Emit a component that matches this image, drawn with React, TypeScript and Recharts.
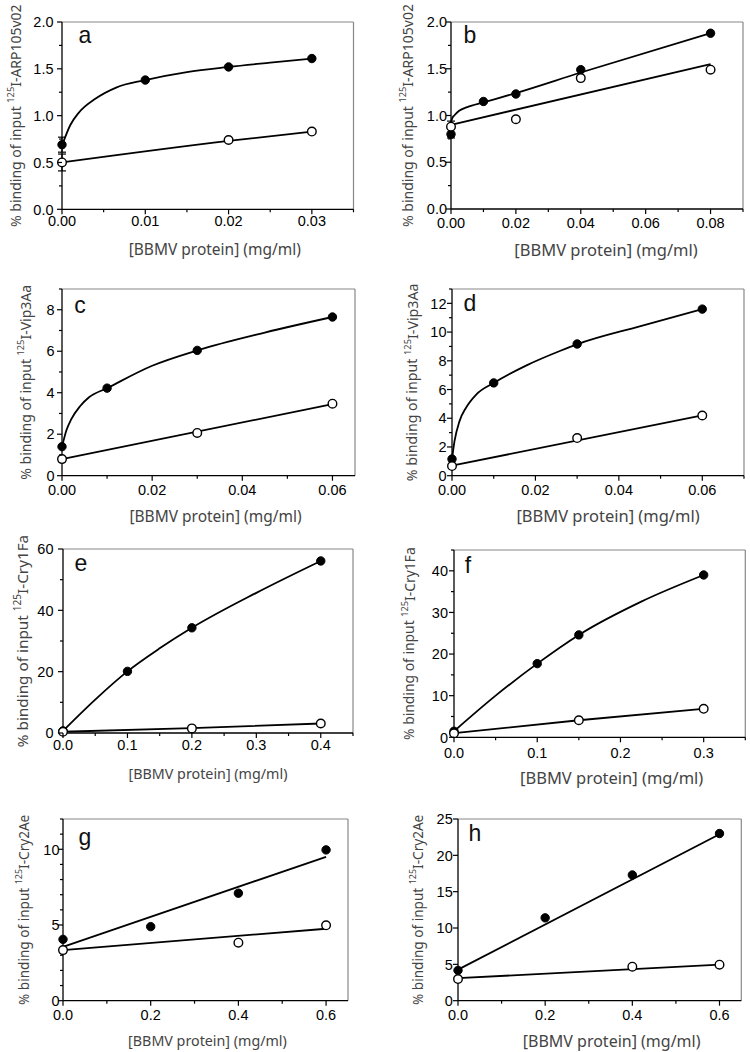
import React from 'react';
import { ComposedChart, Line, XAxis, YAxis, ReferenceLine, ErrorBar } from 'recharts';

// ---------- Panel a : 125I-ARP105v02 ----------
const aFilledX = [0, 0.01, 0.02, 0.03];
const aFilledY = [0.69, 1.38, 1.52, 1.61];
const aOpenX = [0, 0.02, 0.03];
const aOpenY = [0.5, 0.74, 0.83];
const aFilledCurveX = [0, 0.001, 0.002, 0.004, 0.0065, 0.01, 0.015, 0.02, 0.025, 0.03];
const aFilledCurveY = [0.68, 0.9, 1.03, 1.18, 1.3, 1.38, 1.465, 1.52, 1.566, 1.61];
const aOpenCurveX = [0, 0.02, 0.03];
const aOpenCurveY = [0.5, 0.73, 0.83];
const aErrFilled = [{ x: 0, y: 0.69, err: 0.08 }];
const aErrOpen = [{ x: 0, y: 0.5, err: 0.09 }];

// ---------- Panel b : 125I-ARP105v02 ----------
const bFilledX = [0, 0.01, 0.02, 0.04, 0.08];
const bFilledY = [0.8, 1.15, 1.23, 1.49, 1.88];
const bOpenX = [0, 0.02, 0.04, 0.08];
const bOpenY = [0.88, 0.96, 1.4, 1.49];
const bFilledCurveX = [0, 0.0005, 0.001, 0.0025, 0.005, 0.01, 0.02, 0.04, 0.08];
const bFilledCurveY = [0.93, 0.98, 1.0, 1.05, 1.09, 1.14, 1.24, 1.46, 1.88];
const bOpenCurveX = [0, 0.08];
const bOpenCurveY = [0.9, 1.55];
const bErrFilled = [{ x: 0, y: 0.8, err: [0.04, 0.14] }];

// ---------- Panel c : 125I-Vip3Aa ----------
const cFilledX = [0, 0.01, 0.03, 0.06];
const cFilledY = [1.4, 4.22, 6.04, 7.65];
const cOpenX = [0, 0.03, 0.06];
const cOpenY = [0.8, 2.06, 3.47];
const cFilledCurveX = [0, 0.001, 0.002, 0.004, 0.006, 0.01, 0.02, 0.03, 0.045, 0.06];
const cFilledCurveY = [1.4, 2.2, 2.7, 3.35, 3.78, 4.22, 5.3, 6.04, 6.9, 7.65];
const cOpenCurveX = [0, 0.06];
const cOpenCurveY = [0.8, 3.45];

// ---------- Panel d : 125I-Vip3Aa ----------
const dFilledX = [0, 0.01, 0.03, 0.06];
const dFilledY = [1.16, 6.46, 9.17, 11.6];
const dOpenX = [0, 0.03, 0.06];
const dOpenY = [0.67, 2.62, 4.19];
const dFilledCurveX = [0, 0.0006, 0.0018, 0.0034, 0.0058, 0.01, 0.018, 0.026, 0.03, 0.045, 0.06];
const dFilledCurveY = [1.16, 2.4, 3.8, 4.75, 5.65, 6.46, 7.7, 8.7, 9.15, 10.4, 11.6];
const dOpenCurveX = [0, 0.06];
const dOpenCurveY = [0.7, 4.2];

// ---------- Panel e : 125I-Cry1Fa ----------
const eFilledX = [0, 0.1, 0.2, 0.4];
const eFilledY = [0.7, 20.1, 34.3, 56.1];
const eOpenX = [0, 0.2, 0.4];
const eOpenY = [0.4, 1.5, 3.1];
const eFilledCurveX = [0, 0.05, 0.1, 0.15, 0.2, 0.3, 0.4];
const eFilledCurveY = [0.7, 10.9, 20.1, 27.6, 34.3, 45.7, 56.1];
const eOpenCurveX = [0, 0.2, 0.4];
const eOpenCurveY = [0.4, 1.6, 3.1];

// ---------- Panel f : 125I-Cry1Fa ----------
const fFilledX = [0, 0.1, 0.15, 0.3];
const fFilledY = [1.45, 17.7, 24.6, 39.0];
const fOpenX = [0, 0.15, 0.3];
const fOpenY = [0.97, 4.1, 6.84];
const fFilledCurveX = [0, 0.05, 0.1, 0.15, 0.225, 0.3];
const fFilledCurveY = [1.45, 10.0, 17.7, 24.6, 32.6, 39.0];
const fOpenCurveX = [0, 0.15, 0.3];
const fOpenCurveY = [0.97, 4.1, 6.84];

// ---------- Panel g : 125I-Cry2Ae ----------
const gFilledX = [0, 0.2, 0.4, 0.6];
const gFilledY = [4.05, 4.89, 7.1, 9.96];
const gOpenX = [0, 0.4, 0.6];
const gOpenY = [3.34, 3.83, 4.98];
const gFilledFitX = [0, 0.6];
const gFilledFitY = [3.56, 9.5];
const gOpenFitX = [0, 0.6];
const gOpenFitY = [3.34, 4.75];

// ---------- Panel h : 125I-Cry2Ae ----------
const hFilledX = [0, 0.2, 0.4, 0.6];
const hFilledY = [4.17, 11.4, 17.3, 23.0];
const hOpenX = [0, 0.4, 0.6];
const hOpenY = [2.98, 4.68, 4.95];
const hFilledFitX = [0, 0.6];
const hFilledFitY = [4.27, 22.9];
const hOpenFitX = [0, 0.6];
const hOpenFitY = [3.1, 4.95];

// ---------- Axis ticks ----------
const ticksX_a = [0, 0.01, 0.02, 0.03];
const minorX_a = [0.005, 0.015, 0.025, 0.035];
const ticksX_b = [0, 0.02, 0.04, 0.06, 0.08];
const minorX_b = [0.01, 0.03, 0.05, 0.07, 0.09];
const ticksX_cd = [0, 0.02, 0.04, 0.06];
const minorX_c = [0.01, 0.03, 0.05];
const minorX_d = [0.01, 0.03, 0.05, 0.07];
const ticksX_e = [0, 0.1, 0.2, 0.3, 0.4];
const minorX_e = [0.05, 0.15, 0.25, 0.35, 0.45];
const ticksX_f = [0, 0.1, 0.2, 0.3];
const minorX_f = [0.05, 0.15, 0.25, 0.35];
const ticksX_gh = [0, 0.2, 0.4, 0.6];
const minorX_gh = [0.1, 0.3, 0.5];

const ticksY_ab = [0, 0.5, 1.0, 1.5, 2.0];
const minorY_ab = [0.25, 0.75, 1.25, 1.75];
const ticksY_c = [0, 2, 4, 6, 8];
const minorY_c = [1, 3, 5, 7, 9];
const ticksY_d = [0, 2, 4, 6, 8, 10, 12];
const minorY_d = [1, 3, 5, 7, 9, 11, 13];
const ticksY_e = [0, 20, 40, 60];
const minorY_e = [10, 30, 50];
const ticksY_f = [0, 10, 20, 30, 40];
const minorY_f = [5, 15, 25, 35, 45];
const ticksY_g = [0, 5, 10];
const minorY_g = [1, 2, 3, 4, 6, 7, 8, 9, 11, 12];
const ticksY_h = [0, 5, 10, 15, 20, 25];
const minorY_h: number[] = [];

const proteins = ['ARP105v02', 'ARP105v02', 'Vip3Aa', 'Vip3Aa', 'Cry1Fa', 'Cry1Fa', 'Cry2Ae', 'Cry2Ae'];
const panelLetters = ['a', 'b', 'c', 'd', 'e', 'f', 'g', 'h'];
const xTitle = '[BBMV protein] (mg/ml)';

const toPts = (xs: number[], ys: number[]) => xs.map((x, i) => ({ x, y: ys[i] }));

const TICK_FONT = 'Arial, "Liberation Sans", sans-serif';
const TITLE_FONT = '"Noto Sans", "Open Sans", sans-serif';

const ML = 70, MT = 25, MR = 12, XH = 55;

type Panel = {
  box: [number, number, number, number];
  xDomain: [number, number];
  xMajor: number[];
  xMinor: number[];
  xDec: number;
  yDomain: [number, number];
  yMajor: number[];
  yMinor: number[];
  yDec: number;
  filled: { x: number; y: number }[];
  open: { x: number; y: number }[];
  filledCurve: { x: number; y: number }[];
  openCurve: { x: number; y: number }[];
  curveType: 'monotone' | 'linear';
  errFilled?: any[];
  errOpen?: any[];
  letter: [number, number];
  yTitleOffset: number;
  yTitleShift: number;
  xTitleShift: number;
  xTitleSize: number;
  yTitleSize: number;
  xTickOff: number;
  yTickGap: number;
};

const panels: Panel[] = [
  {
    box: [62, 21.7, 353.5, 209], xDomain: [0, 0.035], xMajor: ticksX_a, xMinor: minorX_a, xDec: 2,
    yDomain: [0, 2], yMajor: ticksY_ab, yMinor: minorY_ab, yDec: 1,
    filled: toPts(aFilledX, aFilledY), open: toPts(aOpenX, aOpenY),
    filledCurve: toPts(aFilledCurveX, aFilledCurveY), openCurve: toPts(aOpenCurveX, aOpenCurveY),
    curveType: 'monotone', errFilled: aErrFilled, errOpen: aErrOpen,
    letter: [23, 13], yTitleOffset: 47, yTitleShift: 0, xTitleShift: 7, xTitleSize: 15.5, yTitleSize: 14,
    xTickOff: 11, yTickGap: 8.5,
  },
  {
    box: [451, 22, 743, 209], xDomain: [0, 0.09], xMajor: ticksX_b, xMinor: minorX_b, xDec: 2,
    yDomain: [0, 2], yMajor: ticksY_ab, yMinor: minorY_ab, yDec: 1,
    filled: toPts(bFilledX, bFilledY), open: toPts(bOpenX, bOpenY),
    filledCurve: toPts(bFilledCurveX, bFilledCurveY), openCurve: toPts(bOpenCurveX, bOpenCurveY),
    curveType: 'monotone', errFilled: bErrFilled,
    letter: [19, 13], yTitleOffset: 44, yTitleShift: 0, xTitleShift: 9, xTitleSize: 16.5, yTitleSize: 14,
    xTickOff: 13.5, yTickGap: 4,
  },
  {
    box: [62, 289.3, 355, 476], xDomain: [0, 0.065], xMajor: ticksX_cd, xMinor: minorX_c, xDec: 2,
    yDomain: [0, 9], yMajor: ticksY_c, yMinor: minorY_c, yDec: 0,
    filled: toPts(cFilledX, cFilledY), open: toPts(cOpenX, cOpenY),
    filledCurve: toPts(cFilledCurveX, cFilledCurveY), openCurve: toPts(cOpenCurveX, cOpenCurveY),
    curveType: 'monotone',
    letter: [18, 16], yTitleOffset: 37, yTitleShift: 0, xTitleShift: 7, xTitleSize: 15.5, yTitleSize: 14,
    xTickOff: 14, yTickGap: 7.5,
  },
  {
    box: [452.3, 289.3, 744.3, 476], xDomain: [0, 0.07], xMajor: ticksX_cd, xMinor: minorX_d, xDec: 2,
    yDomain: [0, 13], yMajor: ticksY_d, yMinor: minorY_d, yDec: 0,
    filled: toPts(dFilledX, dFilledY), open: toPts(dOpenX, dOpenY),
    filledCurve: toPts(dFilledCurveX, dFilledCurveY), openCurve: toPts(dOpenCurveX, dOpenCurveY),
    curveType: 'monotone',
    letter: [18, 14], yTitleOffset: 40.5, yTitleShift: 0, xTitleShift: 10, xTitleSize: 16.5, yTitleSize: 14.2,
    xTickOff: 14, yTickGap: 5.5,
  },
  {
    box: [63.3, 549.3, 353.3, 733.3], xDomain: [0, 0.45], xMajor: ticksX_e, xMinor: minorX_e, xDec: 1,
    yDomain: [0, 60], yMajor: ticksY_e, yMinor: minorY_e, yDec: 0,
    filled: toPts(eFilledX, eFilledY), open: toPts(eOpenX, eOpenY),
    filledCurve: toPts(eFilledCurveX, eFilledCurveY), openCurve: toPts(eOpenCurveX, eOpenCurveY),
    curveType: 'monotone',
    letter: [18, 14], yTitleOffset: 41.5, yTitleShift: 0, xTitleShift: 0, xTitleSize: 14.3, yTitleSize: 15.3,
    xTickOff: 12, yTickGap: 9.5,
  },
  {
    box: [453.7, 550, 745, 737.3], xDomain: [0, 0.35], xMajor: ticksX_f, xMinor: minorX_f, xDec: 1,
    yDomain: [0, 45], yMajor: ticksY_f, yMinor: minorY_f, yDec: 0,
    filled: toPts(fFilledX, fFilledY), open: toPts(fOpenX, fOpenY),
    filledCurve: toPts(fFilledCurveX, fFilledCurveY), openCurve: toPts(fOpenCurveX, fOpenCurveY),
    curveType: 'monotone',
    letter: [14, 15], yTitleOffset: 45.5, yTitleShift: 0, xTitleShift: 12, xTitleSize: 16.5, yTitleSize: 13.9,
    xTickOff: 15, yTickGap: 6,
  },
  {
    box: [63.3, 819.3, 348.3, 1001], xDomain: [0, 0.65], xMajor: ticksX_gh, xMinor: minorX_gh, xDec: 1,
    yDomain: [0, 12], yMajor: ticksY_g, yMinor: minorY_g, yDec: 0,
    filled: toPts(gFilledX, gFilledY), open: toPts(gOpenX, gOpenY),
    filledCurve: toPts(gFilledFitX, gFilledFitY), openCurve: toPts(gOpenFitX, gOpenFitY),
    curveType: 'linear',
    letter: [22, 18], yTitleOffset: 40, yTitleShift: 0, xTitleShift: 2, xTitleSize: 14.3, yTitleSize: 13.6,
    xTickOff: 14.5, yTickGap: 3.5,
  },
  {
    box: [457.7, 819.3, 741, 1001], xDomain: [0, 0.65], xMajor: ticksX_gh, xMinor: minorX_gh, xDec: 1,
    yDomain: [0, 25], yMajor: ticksY_h, yMinor: minorY_h, yDec: 0,
    filled: toPts(hFilledX, hFilledY), open: toPts(hOpenX, hOpenY),
    filledCurve: toPts(hFilledFitX, hFilledFitY), openCurve: toPts(hOpenFitX, hOpenFitY),
    curveType: 'linear',
    letter: [17, 14], yTitleOffset: 41, yTitleShift: 0, xTitleShift: 12, xTitleSize: 16, yTitleSize: 13.6,
    xTickOff: 14.5, yTickGap: 5.3,
  },
];

const isIn = (arr: number[], v: number) => arr.some((m) => Math.abs(m - v) < 1e-9);

function makeXTick(p: Panel) {
  return (props: any) => {
    const { x, y, payload } = props;
    const v = payload.value;
    const major = isIn(p.xMajor, v);
    return (
      <g>
        <line x1={x} y1={y} x2={x} y2={y + (major ? 5 : 3)} stroke="#000" strokeWidth={1.2} />
        {major && (
          <text x={x} y={y + p.xTickOff} dy="0.36em" textAnchor="middle" fontFamily={TICK_FONT} fontSize={14.5} fill="#000">
            {v.toFixed(p.xDec)}
          </text>
        )}
      </g>
    );
  };
}

function makeYTick(p: Panel) {
  return (props: any) => {
    const { x, y, payload } = props;
    const v = payload.value;
    const major = isIn(p.yMajor, v);
    return (
      <g>
        <line x1={x} y1={y} x2={x - (major ? 5 : 3)} y2={y} stroke="#000" strokeWidth={1.2} />
        {major && (
          <text x={x - p.yTickGap} y={y} dy="0.36em" textAnchor="end" fontFamily={TICK_FONT} fontSize={14.5} fill="#000">
            {v.toFixed(p.yDec)}
          </text>
        )}
      </g>
    );
  };
}

function makeYTitle(p: Panel, idx: number) {
  return (props: any) => {
    const vb = props.viewBox || {};
    const plotLeft = vb.x + vb.width;
    const cx = plotLeft - p.yTitleOffset;
    const cy = vb.y + vb.height / 2 + p.yTitleShift;
    return (
      <g>
        <text
          transform={`translate(${cx},${cy}) rotate(-90)`}
          textAnchor="middle"
          dominantBaseline="central"
          fontFamily={TITLE_FONT}
          fontSize={p.yTitleSize}
          fill="#444"
        >
          {'% binding of input '}
          <tspan dy={-5} fontSize="0.66em">125</tspan>
          <tspan dy={5}>{'I-' + proteins[idx]}</tspan>
        </text>
        <text
          x={plotLeft + p.letter[0]}
          y={vb.y + p.letter[1]}
          textAnchor="middle"
          dominantBaseline="central"
          fontFamily={TICK_FONT}
          fontSize={23}
          fill="#111"
        >
          {panelLetters[idx]}
        </text>
      </g>
    );
  };
}

function makeXTitle(p: Panel) {
  return (props: any) => {
    const vb = props.viewBox || {};
    return (
      <text
        x={vb.x + vb.width / 2 + p.xTitleShift}
        y={vb.y + 40}
        textAnchor="middle"
        dominantBaseline="central"
        fontFamily={TITLE_FONT}
        fontSize={p.xTitleSize}
        fill="#444"
      >
        {xTitle}
      </text>
    );
  };
}

function PanelChart({ p, idx }: { p: Panel; idx: number }) {
  const [x0, y0, x1, y1] = p.box;
  const w = x1 - x0;
  const h = y1 - y0;
  const xTicks = [...p.xMajor, ...p.xMinor].sort((a, b) => a - b);
  const yTicks = [...p.yMajor, ...p.yMinor].sort((a, b) => a - b);
  return (
    <div style={{ position: 'absolute', left: x0 - ML, top: y0 - MT }}>
      <ComposedChart
        width={w + ML + MR}
        height={h + MT + XH}
        margin={{ top: MT, right: MR, left: 0, bottom: 0 }}
        style={{ overflow: 'visible' }}
      >
        <XAxis
          type="number"
          dataKey="x"
          domain={p.xDomain}
          ticks={xTicks}
          interval={0}
          tickSize={0}
          tickMargin={0}
          tickLine={false}
          tick={makeXTick(p)}
          axisLine={{ stroke: '#000', strokeWidth: 1.3 }}
          height={XH}
          label={{ content: makeXTitle(p) }}
        />
        <YAxis
          type="number"
          dataKey="y"
          domain={p.yDomain}
          ticks={yTicks}
          interval={0}
          tickSize={0}
          tickMargin={0}
          tickLine={false}
          tick={makeYTick(p)}
          axisLine={{ stroke: '#000', strokeWidth: 1.3 }}
          width={ML}
          label={{ content: makeYTitle(p, idx) }}
        />
        <ReferenceLine y={p.yDomain[1]} stroke="#888" strokeWidth={1.2} />
        <ReferenceLine x={p.xDomain[1]} stroke="#888" strokeWidth={1.2} />
        <Line
          data={p.openCurve}
          dataKey="y"
          type={p.curveType}
          stroke="#000"
          strokeWidth={1.8}
          dot={false}
          isAnimationActive={false}
        />
        <Line
          data={p.filledCurve}
          dataKey="y"
          type={p.curveType}
          stroke="#000"
          strokeWidth={1.8}
          dot={false}
          isAnimationActive={false}
        />
        {p.errFilled && (
          <Line data={p.errFilled} dataKey="y" stroke="none" dot={false} isAnimationActive={false}>
            <ErrorBar dataKey="err" width={4} stroke="#000" strokeWidth={1.2} isAnimationActive={false} />
          </Line>
        )}
        {p.errOpen && (
          <Line data={p.errOpen} dataKey="y" stroke="none" dot={false} isAnimationActive={false}>
            <ErrorBar dataKey="err" width={4} stroke="#000" strokeWidth={1.2} isAnimationActive={false} />
          </Line>
        )}
        <Line
          data={p.filled}
          dataKey="y"
          stroke="none"
          dot={{ r: 4.2, fill: '#000', stroke: '#000', strokeWidth: 1 }}
          isAnimationActive={false}
        />
        <Line
          data={p.open}
          dataKey="y"
          stroke="none"
          dot={{ r: 4.3, fill: '#fff', stroke: '#000', strokeWidth: 1.4 }}
          isAnimationActive={false}
        />
      </ComposedChart>
    </div>
  );
}

export default function App() {
  return (
    <div style={{ position: 'absolute', left: 0, top: 0, width: 750, height: 1052, background: '#fff', overflow: 'hidden' }}>
      {panels.map((p, i) => (
        <PanelChart key={i} p={p} idx={i} />
      ))}
    </div>
  );
}
